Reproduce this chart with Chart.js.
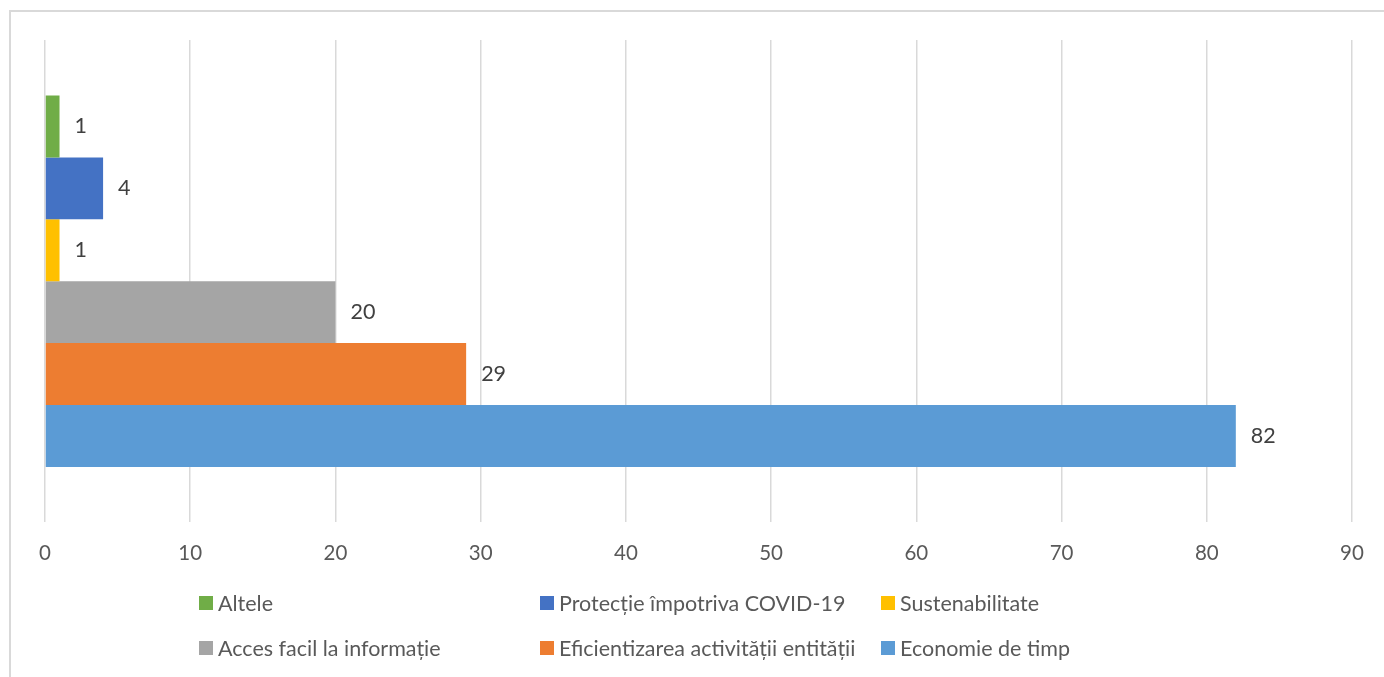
<!DOCTYPE html>
<html>
<head>
<meta charset="utf-8">
<script src="https://cdn.jsdelivr.net/npm/chart.js@4.4.1/dist/chart.umd.min.js"></script>
<style>
  html, body { margin: 0; padding: 0; background: #ffffff; }
  body { width: 1384px; height: 677px; position: relative; overflow: hidden; font-family: Lato, "Liberation Sans", sans-serif; }
  #frame { position: absolute; left: 9px; top: 10px; width: 1400px; height: 700px; border: 2px solid #d9d9d9; box-sizing: border-box; }
  #wrap { position: absolute; left: 0; top: 0; width: 1384px; height: 677px; }
  #legend { position: absolute; left: 0; top: 0; width: 1384px; height: 677px; pointer-events: none; }
  .item { position: absolute; display: flex; align-items: center; font-size: 21.5px; color: #595959; white-space: nowrap; line-height: 24px; }
  .box { width: 14px; height: 14px; margin-right: 5px; flex: none; }
</style>
</head>
<body>
<div id="frame"></div>
<div id="wrap"><canvas id="c" width="1384" height="677"></canvas></div>
<div id="legend"></div>
<script>
// ---- data ----
const categories = [""];
const seriesNames = [
  "Altele",
  "Protecție împotriva COVID-19",
  "Sustenabilitate",
  "Acces facil la informație",
  "Eficientizarea activității entității",
  "Economie de timp"
];
const seriesValues = [1, 4, 1, 20, 29, 82];
const seriesColors = ["#70AD47", "#4472C4", "#FFC000", "#A5A5A5", "#ED7D31", "#5B9BD5"];
const xTicks = [0, 10, 20, 30, 40, 50, 60, 70, 80, 90];

const datasets = seriesNames.map((name, i) => ({
  label: name,
  data: [seriesValues[i]],
  backgroundColor: seriesColors[i],
  borderWidth: 0,
  barPercentage: 1.0,
  categoryPercentage: 0.77
}));

const valueLabels = {
  id: 'valueLabels',
  afterDatasetsDraw(chart) {
    const ctx = chart.ctx;
    ctx.save();
    ctx.font = '21.5px Lato, "Liberation Sans", sans-serif';
    ctx.fillStyle = '#404040';
    ctx.textAlign = 'left';
    ctx.textBaseline = 'middle';
    chart.data.datasets.forEach((ds, di) => {
      const meta = chart.getDatasetMeta(di);
      meta.data.forEach((el, j) => {
        ctx.fillText(String(ds.data[j]), el.x + 15, el.y);
      });
    });
    ctx.restore();
  }
};

new Chart(document.getElementById('c'), {
  type: 'bar',
  data: { labels: categories, datasets },
  options: {
    indexAxis: 'y',
    responsive: false,
    animation: false,
    devicePixelRatio: 1,
    layout: { padding: { left: 45, right: 32, top: 40, bottom: 92 } },
    plugins: { legend: { display: false }, tooltip: { enabled: false } },
    scales: {
      x: {
        min: xTicks[0], max: xTicks[xTicks.length - 1],
        afterBuildTicks: (s) => { s.ticks = xTicks.map(v => ({ value: v })); },
        grid: { color: '#d9d9d9', lineWidth: 1.5, drawTicks: false },
        border: { display: false },
        ticks: { color: '#595959', padding: 19, font: { family: 'Lato, "Liberation Sans", sans-serif', size: 20.5 } }
      },
      y: { display: false }
    }
  },
  plugins: [valueLabels]
});

// legend (two rows, three columns)
const legendPos = [
  [199, 603], [540, 603], [881, 603],
  [199, 648], [540, 648], [881, 648]
];
const lg = document.getElementById('legend');
seriesNames.forEach((name, i) => {
  const d = document.createElement('div');
  d.className = 'item';
  d.style.left = legendPos[i][0] + 'px';
  d.style.top = (legendPos[i][1] - 12) + 'px';
  d.innerHTML = '<span class="box" style="background:' + seriesColors[i] + '"></span><span></span>';
  d.lastChild.textContent = name;
  lg.appendChild(d);
});
</script>
</body>
</html>
